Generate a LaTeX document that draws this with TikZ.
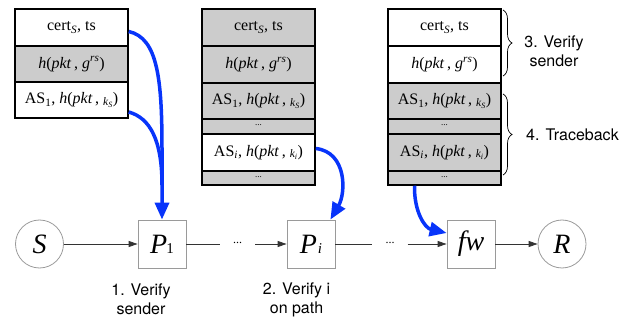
\documentclass[tikz,border=0pt]{standalone}
\usepackage{fontspec}
\setmainfont{Liberation Serif}
\newfontfamily\labelfont{TeX Gyre Heros}
\usetikzlibrary{arrows.meta,decorations.pathreplacing}

\definecolor{cellgray}{HTML}{CCCCCC}
\definecolor{boxgray}{HTML}{9A9A9A}
\definecolor{pathblue}{RGB}{8,52,250}
\definecolor{linegray}{HTML}{333333}

% header fields
\newcommand\certts{cert\textsubscript{\itshape S}, ts}
\newcommand\hpkt{\textit{h}(\textit{pkt}\,, \textit{g}\textsuperscript{\itshape rs})}
\newcommand\ashop[2]{AS\textsubscript{#1}, \textit{h}(\textit{pkt}\,, \raisebox{-1.5pt}{\fontsize{11.5}{11.5}\selectfont\itshape k\textsubscript{#2}})}
\newcommand\fielddots{{\fontsize{9}{9}\selectfont\raisebox{2pt}{...}}}
\newcommand\pathdots{{\fontsize{12}{12}\selectfont\raisebox{2pt}{...}}}

\begin{document}
\begin{tikzpicture}[x=1pt,y=-1pt,
  cell/.style={draw=black, line width=1.5pt, fill=white, minimum width=113pt,
    inner sep=0pt, font=\fontsize{16}{16}\selectfont},
  gcell/.style={cell, fill=cellgray},
  router/.style={draw=boxgray, line width=0.8pt, minimum size=48pt, inner sep=0pt,
    font=\fontsize{28}{28}\selectfont\itshape},
  host/.style={router, circle},
  gapdots/.style={inner sep=0pt, minimum width=35pt, minimum height=10pt},
  plain/.style={draw=linegray, line width=0.8pt},
  conn/.style={plain, -{Triangle[width=6pt,length=9pt]}},
  hop/.style={draw=pathblue, line width=3.5pt},
  hoparrow/.style={hop, -{Triangle[width=14pt,length=17pt]}},
  lbl/.style={font=\fontsize{16}{19}\selectfont\labelfont, align=center, inner sep=0pt},
  brc/.style={draw=black, line width=0.7pt, decorate,
    decoration={brace, amplitude=9pt}}]

\useasboundingbox (0,0) rectangle (637,320);

% packet header as sent by S
\node[cell,  minimum height=37pt] (a1) at (71.5,27.5) {\certts};
\node[gcell, minimum height=36pt] (a2) at (71.5,64)   {\hpkt};
\node[cell,  minimum height=36pt] (a3) at (71.5,100)  {\ashop{1}{S}};

% header at hop i
\node[gcell, minimum height=37pt] (b1) at (258.5,27.5)  {\certts};
\node[gcell, minimum height=37pt] (b2) at (258.5,64.5)  {\hpkt};
\node[gcell, minimum height=36pt] (b3) at (258.5,101)   {\ashop{1}{S}};
\node[gcell, minimum height=15pt] (b4) at (258.5,126.5) {\fielddots};
\node[cell,  minimum height=37pt] (b5) at (258.5,152.5) {\ashop{\itshape i}{\itshape i}};
\node[gcell, minimum height=14pt] (b6) at (258.5,178)   {\fielddots};

% header at the firewall
\node[cell,  minimum height=37pt] (c1) at (444.5,27.5)  {\certts};
\node[cell,  minimum height=37pt] (c2) at (444.5,64.5)  {\hpkt};
\node[gcell, minimum height=36pt] (c3) at (444.5,101)   {\ashop{1}{S}};
\node[gcell, minimum height=15pt] (c4) at (444.5,126.5) {\fielddots};
\node[gcell, minimum height=37pt] (c5) at (444.5,152.5) {\ashop{\itshape i}{\itshape i}};
\node[gcell, minimum height=14pt] (c6) at (444.5,178)   {\fielddots};

% braces and step labels on the right
\draw[brc] (503,10) -- (503,76);
\draw[brc] (503,94) -- (503,175);
\node[lbl] (l3) at (554,51.5) {3. Verify\\sender};
\node[lbl] (l4) at (572.5,135) {4. Traceback};

% forwarding path
\node[host]   (S)  at (39.5,244) {S};
\node[router] (P1) at (162,244)  {P\kern-1pt{\fontsize{15}{15}\selectfont\upshape 1}};
\node[gapdots] (d1) at (237.5,244) {\pathdots};
\node[router] (Pi) at (311,244)  {P\kern1pt{\fontsize{15}{15}\selectfont i}};
\node[gapdots] (d2) at (390,244) {\pathdots};
\node[router] (fw) at (471,244)  {fw};
\node[host]   (R)  at (562,244)  {R};

\draw[conn]  (S)  -- (P1);
\draw[plain] (P1) -- (d1);
\draw[conn]  (d1) -- (Pi);
\draw[plain] (Pi) -- (d2);
\draw[conn]  (d2) -- (fw);
\draw[conn]  (fw) -- (R);

% step labels under the path
\node[lbl] (l1) at (141,299.5)   {1. Verify\\sender};
\node[lbl] (l2) at (296.5,299.5) {2. Verify i\\on path};

% fields checked at each hop
\draw[hop] ([yshift=-12pt]a3.east) .. controls (150,118) and (162,140) .. (162,185);
\draw[hoparrow] ([yshift=-4pt]a1.east) .. controls (158,38) and (162,80) .. (162,150) -- (P1.north);
\draw[hoparrow] ([yshift=4pt]b5.east) .. controls (347,152) and (346,193) .. ([xshift=-5pt]Pi.north east);
\draw[hoparrow] ([xshift=-30pt]c6.south) .. controls (414,212) and (425,228) .. ([yshift=11pt]fw.west);
\end{tikzpicture}
\end{document}
